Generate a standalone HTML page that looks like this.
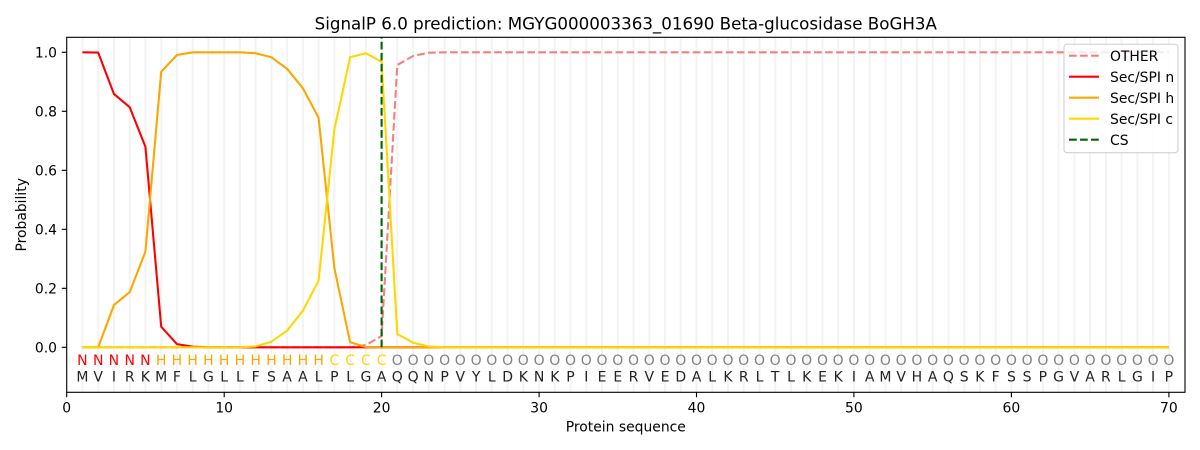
<!DOCTYPE html>
<html><head><meta charset="utf-8"><style>
html,body{margin:0;padding:0;background:#fff;}
svg{display:block;font-family:"DejaVu Sans","Liberation Sans",sans-serif;}
</style></head><body>
<svg width="1200" height="450" viewBox="0 0 1200 450" xmlns="http://www.w3.org/2000/svg">
<rect width="1200" height="450" fill="#fff"/>
<!-- grid lines -->
<path stroke="#f3f3f3" stroke-width="2" fill="none" d="M82.4 37.3V392.3M98.2 37.3V392.3M113.9 37.3V392.3M129.7 37.3V392.3M145.4 37.3V392.3M161.2 37.3V392.3M176.9 37.3V392.3M192.7 37.3V392.3M208.4 37.3V392.3M224.2 37.3V392.3M239.9 37.3V392.3M255.6 37.3V392.3M271.4 37.3V392.3M287.1 37.3V392.3M302.9 37.3V392.3M318.6 37.3V392.3M334.4 37.3V392.3M350.1 37.3V392.3M365.9 37.3V392.3M381.6 37.3V392.3M397.3 37.3V392.3M413.1 37.3V392.3M428.8 37.3V392.3M444.6 37.3V392.3M460.3 37.3V392.3M476.1 37.3V392.3M491.8 37.3V392.3M507.6 37.3V392.3M523.3 37.3V392.3M539.1 37.3V392.3M554.8 37.3V392.3M570.5 37.3V392.3M586.3 37.3V392.3M602.0 37.3V392.3M617.8 37.3V392.3M633.5 37.3V392.3M649.3 37.3V392.3M665.0 37.3V392.3M680.8 37.3V392.3M696.5 37.3V392.3M712.2 37.3V392.3M728.0 37.3V392.3M743.7 37.3V392.3M759.5 37.3V392.3M775.2 37.3V392.3M791.0 37.3V392.3M806.7 37.3V392.3M822.5 37.3V392.3M838.2 37.3V392.3M853.9 37.3V392.3M869.7 37.3V392.3M885.4 37.3V392.3M901.2 37.3V392.3M916.9 37.3V392.3M932.7 37.3V392.3M948.4 37.3V392.3M964.2 37.3V392.3M979.9 37.3V392.3M995.7 37.3V392.3M1011.4 37.3V392.3M1027.1 37.3V392.3M1042.9 37.3V392.3M1058.6 37.3V392.3M1074.4 37.3V392.3M1090.1 37.3V392.3M1105.9 37.3V392.3M1121.6 37.3V392.3M1137.4 37.3V392.3M1153.1 37.3V392.3M1168.9 37.3V392.3"/>

<!-- OTHER -->
<polyline fill="none" stroke="#f08080" stroke-width="2.08" stroke-dasharray="7.7 3.33" points="82.4,347.3 350.1,347.3 365.9,345 381.6,336 397.3,65 413.1,56 428.8,52.7 444.6,52.3 1168.9,52.3"/>
<!-- Sec/SPI n -->
<polyline fill="none" stroke="#ff0000" stroke-width="2.08" stroke-linejoin="round" points="82.4,52.3 98.2,52.6 113.9,93.9 129.7,107.2 145.4,146.7 161.2,326.7 176.9,344.1 192.7,346.7 208.4,347.3 1168.9,347.3"/>
<!-- Sec/SPI h -->
<polyline fill="none" stroke="#ffa500" stroke-width="2.08" stroke-linejoin="round" points="82.4,347.3 98.2,347.3 113.9,305.1 129.7,292.1 145.4,251.7 161.2,71.8 176.9,55 192.7,52.3 239.9,52.3 255.6,53.2 271.4,57.3 287.1,68.8 302.9,88.3 318.6,117.8 334.4,268.3 350.1,342.3 365.9,347 381.6,347.3 1168.9,347.3"/>
<!-- Sec/SPI c -->
<polyline fill="none" stroke="#ffd700" stroke-width="2.08" stroke-linejoin="round" points="82.4,347.3 239.9,347.3 255.6,346.4 271.4,341.7 287.1,330.7 302.9,310.7 318.6,280.7 334.4,129.3 350.1,57.3 365.9,53.3 381.6,61.7 397.3,334 413.1,342.7 428.8,346.4 444.6,347.3 1168.9,347.3"/>
<!-- CS -->
<line x1="381.6" y1="347.3" x2="381.6" y2="37.3" stroke="#006400" stroke-width="2.08" stroke-dasharray="7.7 3.33"/>

<!-- label letters -->
<g font-size="14" text-anchor="middle">
<g fill="#ff0000"><text x="82.4" y="365">N</text><text x="98.2" y="365">N</text><text x="113.9" y="365">N</text><text x="129.7" y="365">N</text><text x="145.4" y="365">N</text></g>
<g fill="#ffa500"><text x="161.2" y="365">H</text><text x="176.9" y="365">H</text><text x="192.7" y="365">H</text><text x="208.4" y="365">H</text><text x="224.2" y="365">H</text><text x="239.9" y="365">H</text><text x="255.6" y="365">H</text><text x="271.4" y="365">H</text><text x="287.1" y="365">H</text><text x="302.9" y="365">H</text><text x="318.6" y="365">H</text></g>
<g fill="#ffd700"><text x="334.4" y="365">C</text><text x="350.1" y="365">C</text><text x="365.9" y="365">C</text><text x="381.6" y="365">C</text></g>
<g fill="#808080"><text x="397.3" y="365">O</text><text x="413.1" y="365">O</text><text x="428.8" y="365">O</text><text x="444.6" y="365">O</text><text x="460.3" y="365">O</text><text x="476.1" y="365">O</text><text x="491.8" y="365">O</text><text x="507.6" y="365">O</text><text x="523.3" y="365">O</text><text x="539.1" y="365">O</text><text x="554.8" y="365">O</text><text x="570.5" y="365">O</text><text x="586.3" y="365">O</text><text x="602.0" y="365">O</text><text x="617.8" y="365">O</text><text x="633.5" y="365">O</text><text x="649.3" y="365">O</text><text x="665.0" y="365">O</text><text x="680.8" y="365">O</text><text x="696.5" y="365">O</text><text x="712.2" y="365">O</text><text x="728.0" y="365">O</text><text x="743.7" y="365">O</text><text x="759.5" y="365">O</text><text x="775.2" y="365">O</text><text x="791.0" y="365">O</text><text x="806.7" y="365">O</text><text x="822.5" y="365">O</text><text x="838.2" y="365">O</text><text x="853.9" y="365">O</text><text x="869.7" y="365">O</text><text x="885.4" y="365">O</text><text x="901.2" y="365">O</text><text x="916.9" y="365">O</text><text x="932.7" y="365">O</text><text x="948.4" y="365">O</text><text x="964.2" y="365">O</text><text x="979.9" y="365">O</text><text x="995.7" y="365">O</text><text x="1011.4" y="365">O</text><text x="1027.1" y="365">O</text><text x="1042.9" y="365">O</text><text x="1058.6" y="365">O</text><text x="1074.4" y="365">O</text><text x="1090.1" y="365">O</text><text x="1105.9" y="365">O</text><text x="1121.6" y="365">O</text><text x="1137.4" y="365">O</text><text x="1153.1" y="365">O</text><text x="1168.9" y="365">O</text></g>
<g fill="#222">
<text x="82.4" y="381.6">M</text><text x="98.2" y="381.6">V</text><text x="113.9" y="381.6">I</text><text x="129.7" y="381.6">R</text><text x="145.4" y="381.6">K</text><text x="161.2" y="381.6">M</text><text x="176.9" y="381.6">F</text><text x="192.7" y="381.6">L</text><text x="208.4" y="381.6">G</text><text x="224.2" y="381.6">L</text><text x="239.9" y="381.6">L</text><text x="255.6" y="381.6">F</text><text x="271.4" y="381.6">S</text><text x="287.1" y="381.6">A</text><text x="302.9" y="381.6">A</text><text x="318.6" y="381.6">L</text><text x="334.4" y="381.6">P</text><text x="350.1" y="381.6">L</text><text x="365.9" y="381.6">G</text><text x="381.6" y="381.6">A</text><text x="397.3" y="381.6">Q</text><text x="413.1" y="381.6">Q</text><text x="428.8" y="381.6">N</text><text x="444.6" y="381.6">P</text><text x="460.3" y="381.6">V</text><text x="476.1" y="381.6">Y</text><text x="491.8" y="381.6">L</text><text x="507.6" y="381.6">D</text><text x="523.3" y="381.6">K</text><text x="539.1" y="381.6">N</text><text x="554.8" y="381.6">K</text><text x="570.5" y="381.6">P</text><text x="586.3" y="381.6">I</text><text x="602.0" y="381.6">E</text><text x="617.8" y="381.6">E</text><text x="633.5" y="381.6">R</text><text x="649.3" y="381.6">V</text><text x="665.0" y="381.6">E</text><text x="680.8" y="381.6">D</text><text x="696.5" y="381.6">A</text><text x="712.2" y="381.6">L</text><text x="728.0" y="381.6">K</text><text x="743.7" y="381.6">R</text><text x="759.5" y="381.6">L</text><text x="775.2" y="381.6">T</text><text x="791.0" y="381.6">L</text><text x="806.7" y="381.6">K</text><text x="822.5" y="381.6">E</text><text x="838.2" y="381.6">K</text><text x="853.9" y="381.6">I</text><text x="869.7" y="381.6">A</text><text x="885.4" y="381.6">M</text><text x="901.2" y="381.6">V</text><text x="916.9" y="381.6">H</text><text x="932.7" y="381.6">A</text><text x="948.4" y="381.6">Q</text><text x="964.2" y="381.6">S</text><text x="979.9" y="381.6">K</text><text x="995.7" y="381.6">F</text><text x="1011.4" y="381.6">S</text><text x="1027.1" y="381.6">S</text><text x="1042.9" y="381.6">P</text><text x="1058.6" y="381.6">G</text><text x="1074.4" y="381.6">V</text><text x="1090.1" y="381.6">A</text><text x="1105.9" y="381.6">R</text><text x="1121.6" y="381.6">L</text><text x="1137.4" y="381.6">G</text><text x="1153.1" y="381.6">I</text><text x="1168.9" y="381.6">P</text>
</g>
</g>

<!-- axes frame -->
<rect x="66.7" y="37.3" width="1118.3" height="355" fill="none" stroke="#000" stroke-width="1.11"/>
<!-- y ticks -->
<path stroke="#000" stroke-width="1.11" d="M61.8 347.3H66.7M61.8 288.3H66.7M61.8 229.3H66.7M61.8 170.3H66.7M61.8 111.3H66.7M61.8 52.3H66.7"/>
<g font-size="13.9" text-anchor="end" fill="#000">
<text x="57" y="352.4">0.0</text>
<text x="57" y="293.4">0.2</text>
<text x="57" y="234.4">0.4</text>
<text x="57" y="175.4">0.6</text>
<text x="57" y="116.4">0.8</text>
<text x="57" y="57.4">1.0</text>
</g>
<!-- x ticks -->
<path stroke="#000" stroke-width="1.11" d="M66.7 392.3V397.2M224.2 392.3V397.2M381.6 392.3V397.2M539.1 392.3V397.2M696.5 392.3V397.2M853.9 392.3V397.2M1011.4 392.3V397.2M1168.9 392.3V397.2"/>
<g font-size="13.9" text-anchor="middle" fill="#000">
<text x="66.7" y="412.5">0</text>
<text x="224.2" y="412.5">10</text>
<text x="381.6" y="412.5">20</text>
<text x="539.1" y="412.5">30</text>
<text x="696.5" y="412.5">40</text>
<text x="853.9" y="412.5">50</text>
<text x="1011.4" y="412.5">60</text>
<text x="1168.9" y="412.5">70</text>
<text x="625.8" y="431.5">Protein sequence</text>
<text transform="translate(26,214.8) rotate(-90)" x="0" y="0">Probability</text>
</g>
<text x="625.8" y="29.3" font-size="16.7" text-anchor="middle" fill="#000">SignalP 6.0 prediction: MGYG000003363_01690 Beta-glucosidase BoGH3A</text>

<!-- legend -->
<rect x="1064" y="44.3" width="114" height="108.4" rx="3" ry="3" fill="#fff" fill-opacity="0.8" stroke="#cccccc" stroke-width="1"/>
<line x1="1069" y1="55.7" x2="1099" y2="55.7" stroke="#f08080" stroke-width="2.08" stroke-dasharray="7.7 3.33"/>
<line x1="1069" y1="76.7" x2="1099" y2="76.7" stroke="#ff0000" stroke-width="2.08"/>
<line x1="1069" y1="97.7" x2="1099" y2="97.7" stroke="#ffa500" stroke-width="2.08"/>
<line x1="1069" y1="118.7" x2="1099" y2="118.7" stroke="#ffd700" stroke-width="2.08"/>
<line x1="1069" y1="139.7" x2="1099" y2="139.7" stroke="#006400" stroke-width="2.08" stroke-dasharray="7.7 3.33"/>
<g font-size="13.9" fill="#000">
<text x="1110" y="60.8">OTHER</text>
<text x="1110" y="81.8">Sec/SPI n</text>
<text x="1110" y="102.8">Sec/SPI h</text>
<text x="1110" y="123.8">Sec/SPI c</text>
<text x="1110" y="144.8">CS</text>
</g>
</svg>
</body></html>
